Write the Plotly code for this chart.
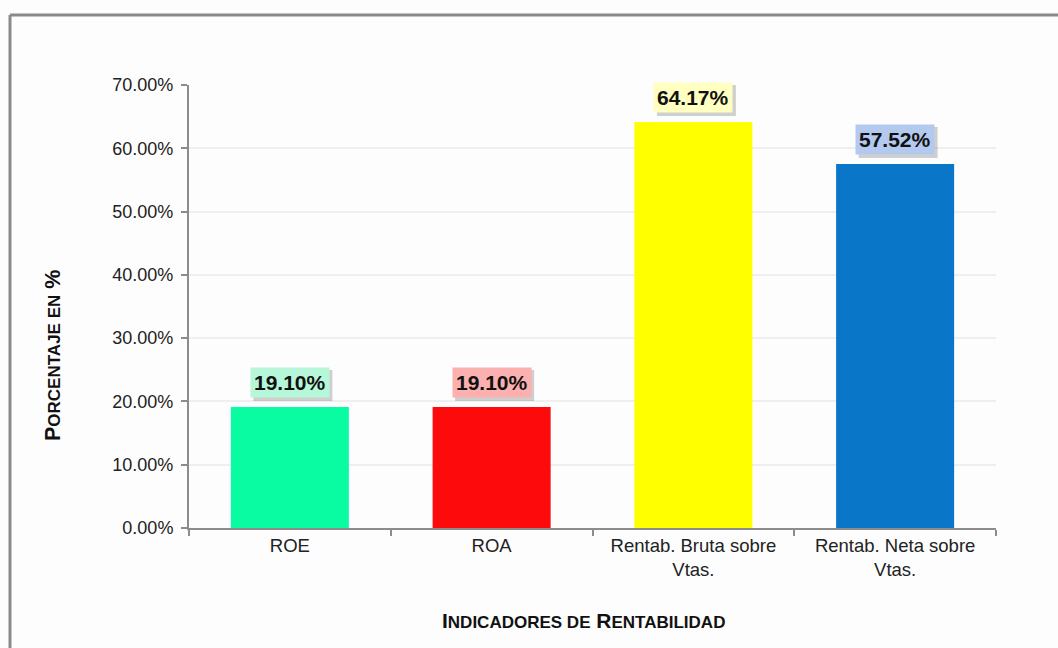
import plotly.graph_objects as go

categories = ["ROE", "ROA", "Rentab. Bruta sobre<br>Vtas.", "Rentab. Neta sobre<br>Vtas."]
values = [19.10, 19.10, 64.17, 57.52]
bar_colors = ["#0afca2", "#fc0a0c", "#ffff00", "#0a76c8"]
label_bg = ["#b5f7d8", "#fcb0b0", "#ffffc2", "#b3c9ee"]
yticks = [0, 10, 20, 30, 40, 50, 60, 70]

L, R, T, B = 189, 62, 85, 120
W, H = 1058, 648
pw, ph = W - L - R, H - T - B
FONT = "Liberation Sans, Arial"


def px(xp):
    return (xp - L) / pw


def py(yp):
    return (H - B - yp) / ph


fig = go.Figure()
fig.add_trace(go.Bar(x=categories, y=values, marker=dict(color=bar_colors, line=dict(width=0)),
                     width=0.585, hoverinfo="skip"))

for c, v, bg in zip(categories, values, label_bg):
    # soft shadow behind the label box
    fig.add_shape(type="rect", xref="x", yref="y", xsizemode="pixel", ysizemode="pixel",
                  xanchor=c, yanchor=v, x0=-36.5, x1=42.5, y0=6, y1=37,
                  fillcolor="rgba(0,0,0,0.18)", line=dict(width=0), layer="above")
    fig.add_annotation(x=c, y=v, yanchor="bottom", yshift=9, showarrow=False,
                       text="<b>%.2f%%</b>" % v, font=dict(family=FONT, size=21, color="#111"),
                       bgcolor=bg, borderpad=3)

# axis titles
fig.add_annotation(xref="paper", yref="paper", x=px(583), y=py(620), xanchor="center", yanchor="middle",
                   showarrow=False, font=dict(family=FONT, size=21, color="#111"),
                   text="<b>I<span style='font-size:17px'>NDICADORES DE</span> R<span style='font-size:17px'>ENTABILIDAD</span></b>")
fig.add_annotation(xref="paper", yref="paper", x=px(53), y=py(356), xanchor="center", yanchor="middle",
                   showarrow=False, textangle=-90, font=dict(family=FONT, size=21.5, color="#111"),
                   text="<b>P<span style='font-size:17px'>ORCENTAJE EN</span> %</b>")

# outer border lines
fig.add_shape(type="line", xref="paper", yref="paper", x0=px(10), x1=px(W + 20), y0=py(15), y1=py(15),
              line=dict(color="#8a8a8a", width=3))
fig.add_shape(type="line", xref="paper", yref="paper", x0=px(10), x1=px(10), y0=py(15), y1=py(H + 20),
              line=dict(color="#8a8a8a", width=3))

fig.update_layout(
    width=W, height=H,
    margin=dict(l=L, r=R, t=T, b=B),
    paper_bgcolor="#fdfdfd", plot_bgcolor="#fdfdfd",
    showlegend=False,
    font=dict(family=FONT, size=18, color="#222"),
    xaxis=dict(
        showline=True, linecolor="#8c8c8c", linewidth=2,
        ticks="outside", tickson="boundaries", ticklen=6, tickcolor="#8c8c8c", tickwidth=2,
        tickfont=dict(size=18.5, color="#222"),
    ),
    yaxis=dict(
        range=[0, 70], tickvals=yticks, ticktext=["%.2f%%" % t for t in yticks],
        showline=True, linecolor="#8c8c8c", linewidth=2,
        ticks="outside", ticklen=6, tickcolor="#8c8c8c", tickwidth=2, ticklabelstandoff=4,
        showgrid=True, gridcolor="#efefef", gridwidth=2, zeroline=False,
        tickfont=dict(size=18, color="#222"),
    ),
)

fig.write_html("out.html")
